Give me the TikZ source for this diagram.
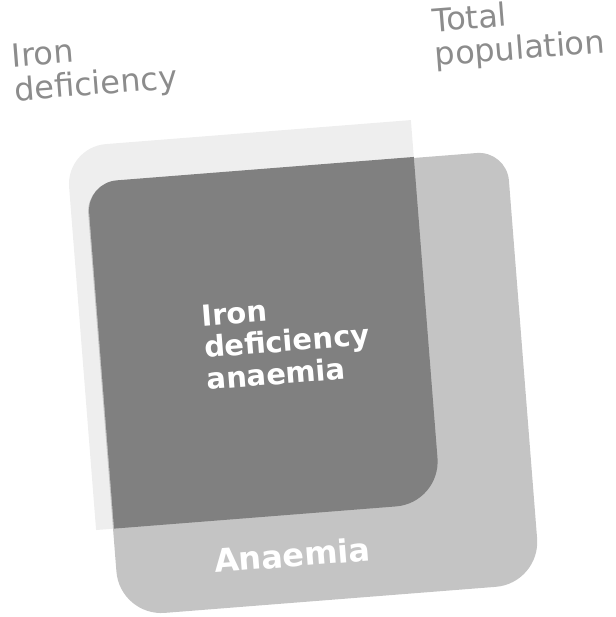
\documentclass[tikz,border=0pt]{standalone}
\usepackage{fontspec}
\setmainfont{DejaVu Sans}
\definecolor{faintGrey}{HTML}{EEEEEE}
\definecolor{anaemiaGrey}{HTML}{C4C4C4}
\definecolor{idaGrey}{HTML}{808080}
\definecolor{labelGrey}{HTML}{8C8C8C}

\begin{document}
\begin{tikzpicture}[x=1pt, y=-1pt,
    outer label/.style={anchor=base west, inner sep=0pt, align=left,
        text=labelGrey, font=\fontsize{32}{34}\selectfont},
    inner label/.style={anchor=base west, inner sep=0pt, align=left,
        text=white, font=\bfseries\fontsize{29}{32}\selectfont}]

    \useasboundingbox (0,0) rectangle (615,617);

    \begin{scope}[rotate around={4.5:(320,380)}, transform shape]

    % iron deficiency (faint region)
    \fill[faintGrey] (85,512) -- (85,168) arc (180:270:40) -- (431,128)
        -- (431,512) -- cycle;

    % anaemia (whole square)
    \fill[anaemiaGrey] (102,196) arc (180:270:30) -- (494,166)
        arc (270:360:30) -- (524,555) arc (0:90:45) -- (147,600)
        arc (90:180:45) -- cycle;

    % iron deficiency anaemia
    \fill[idaGrey] (103,512) -- (103,195) arc (180:270:30) -- (431,165)
        -- (431,467) arc (0:90:45) -- cycle;

    % labels (anchored on the last line)
    \node[outer label] (irondef) at (38,78) {Iron\\deficiency};
    \node[outer label] (totalpop) at (460,76) {Total\\population};
    \node[inner label] (ida) at (207,381) {Iron\\deficiency\\anaemia};
    \node[inner label, font=\bfseries\fontsize{32}{34}\selectfont]
        (anaemia) at (200,564) {Anaemia};

    \end{scope}

\end{tikzpicture}
\end{document}
